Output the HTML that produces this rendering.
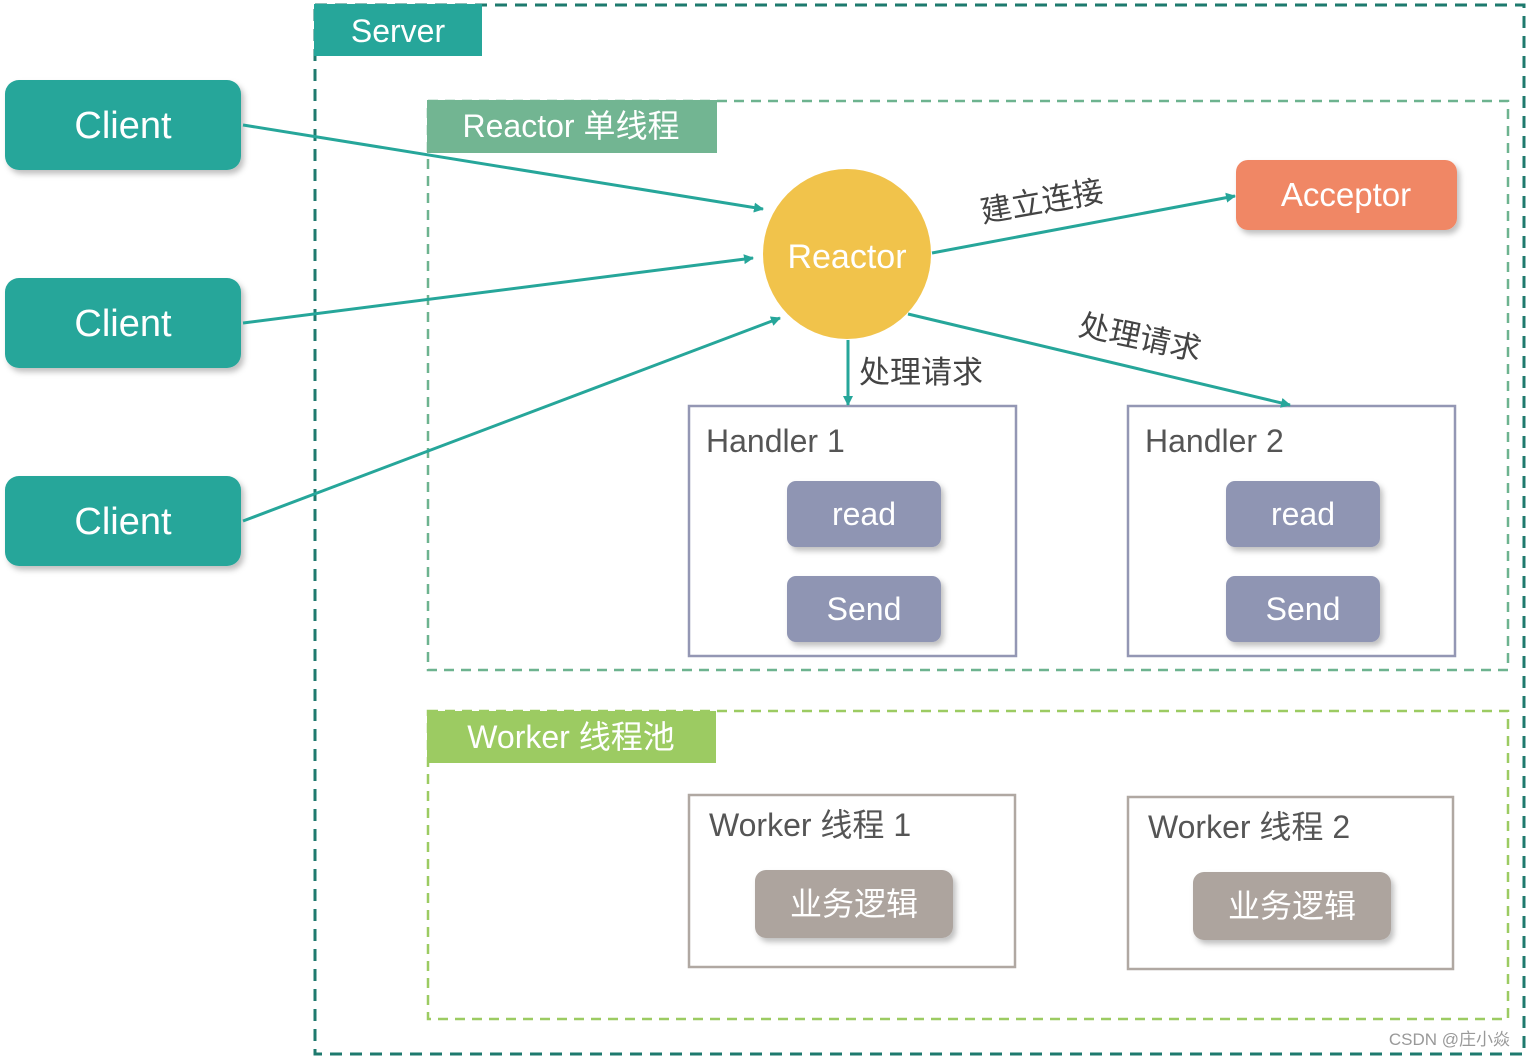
<!DOCTYPE html>
<html><head><meta charset="utf-8"><style>
html,body{margin:0;padding:0;background:#fff;}
svg{display:block;}
text{font-family:"Liberation Sans","Noto Sans CJK SC",sans-serif;}
</style></head><body>
<svg width="1526" height="1057" viewBox="0 0 1526 1057" xmlns="http://www.w3.org/2000/svg">
<defs>
<marker id="ar" markerWidth="10" markerHeight="10" refX="9" refY="5" orient="auto" markerUnits="userSpaceOnUse">
<path d="M0,0 L10,5 L0,10 z" fill="#26a69a"/></marker>
<filter id="sh" x="-10%" y="-10%" width="130%" height="140%"><feDropShadow dx="3" dy="4" stdDeviation="3" flood-color="#000" flood-opacity="0.25"/></filter>
</defs>
<!-- Server -->
<rect x="315" y="5" width="1209" height="1049" fill="none" stroke="#1e7a6e" stroke-width="3" stroke-dasharray="12,8"/>
<rect x="314" y="4" width="168" height="52" fill="#26a69a"/>
<text x="398" y="42" font-size="32" fill="#fff" text-anchor="middle">Server</text>
<!-- Reactor area -->
<rect x="428" y="101" width="1080" height="569" fill="none" stroke="#6db38f" stroke-width="2.5" stroke-dasharray="10,7"/>
<rect x="427" y="100" width="290" height="53" fill="#72b592"/>
<text x="571" y="137" font-size="32" fill="#fff" text-anchor="middle">Reactor 单线程</text>
<!-- Worker area -->
<rect x="428" y="711" width="1080" height="308" fill="none" stroke="#9ccb62" stroke-width="2.5" stroke-dasharray="10,7"/>
<rect x="427" y="711" width="289" height="52" fill="#9ccb62"/>
<text x="571" y="748" font-size="32" fill="#fff" text-anchor="middle">Worker 线程池</text>
<!-- Clients -->
<g filter="url(#sh)">
<rect x="5" y="80" width="236" height="90" rx="14" fill="#26a69a"/>
<rect x="5" y="278" width="236" height="90" rx="14" fill="#26a69a"/>
<rect x="5" y="476" width="236" height="90" rx="14" fill="#26a69a"/>
<rect x="1236" y="160" width="221" height="70" rx="12" fill="#f08765"/>
<rect x="787" y="481" width="154" height="66" rx="9" fill="#8f95b3"/>
<rect x="787" y="576" width="154" height="66" rx="9" fill="#8f95b3"/>
<rect x="1226" y="481" width="154" height="66" rx="9" fill="#8f95b3"/>
<rect x="1226" y="576" width="154" height="66" rx="9" fill="#8f95b3"/>
<rect x="755" y="870" width="198" height="68" rx="11" fill="#ada49e"/>
<rect x="1193" y="872" width="198" height="68" rx="11" fill="#ada49e"/>
</g>
<text x="123" y="138" font-size="38" fill="#fff" text-anchor="middle">Client</text>
<text x="123" y="336" font-size="38" fill="#fff" text-anchor="middle">Client</text>
<text x="123" y="534" font-size="38" fill="#fff" text-anchor="middle">Client</text>
<text x="1346" y="206" font-size="33" fill="#fff" text-anchor="middle">Acceptor</text>
<!-- Reactor -->
<ellipse cx="847" cy="254" rx="84" ry="85" fill="#f1c34b"/>
<text x="847" y="268" font-size="34" fill="#fff" text-anchor="middle">Reactor</text>
<!-- Handler boxes -->
<rect x="689" y="406" width="327" height="250" fill="none" stroke="#9497b4" stroke-width="2.5"/>
<rect x="1128" y="406" width="327" height="250" fill="none" stroke="#9497b4" stroke-width="2.5"/>
<text x="706" y="452" font-size="32" fill="#555">Handler 1</text>
<text x="1145" y="452" font-size="32" fill="#555">Handler 2</text>
<text x="864" y="525" font-size="32" fill="#fff" text-anchor="middle">read</text>
<text x="864" y="620" font-size="32" fill="#fff" text-anchor="middle">Send</text>
<text x="1303" y="525" font-size="32" fill="#fff" text-anchor="middle">read</text>
<text x="1303" y="620" font-size="32" fill="#fff" text-anchor="middle">Send</text>
<!-- Worker boxes -->
<rect x="689" y="795" width="326" height="172" fill="none" stroke="#b0a8a2" stroke-width="2.5"/>
<rect x="1128" y="797" width="325" height="172" fill="none" stroke="#b0a8a2" stroke-width="2.5"/>
<text x="709" y="836" font-size="32" fill="#555">Worker 线程 1</text>
<text x="1148" y="838" font-size="32" fill="#555">Worker 线程 2</text>
<text x="854" y="915" font-size="32" fill="#fff" text-anchor="middle">业务逻辑</text>
<text x="1292" y="917" font-size="32" fill="#fff" text-anchor="middle">业务逻辑</text>
<!-- Arrows -->
<g stroke="#26a69a" stroke-width="3" fill="none" marker-end="url(#ar)">
<line x1="243" y1="125" x2="763" y2="209"/>
<line x1="243" y1="323" x2="753" y2="258"/>
<line x1="243" y1="521" x2="780" y2="318"/>
<line x1="932" y1="253" x2="1235" y2="196"/>
<line x1="908" y1="314" x2="1290" y2="405"/>
<line x1="848" y1="340" x2="848" y2="405"/>
</g>
<text x="1042" y="212" font-size="31" fill="#444" text-anchor="middle" transform="rotate(-10 1042 202)">建立连接</text>
<text x="921" y="383" font-size="31" fill="#444" text-anchor="middle">处理请求</text>
<text x="1140" y="348" font-size="31" fill="#444" text-anchor="middle" transform="rotate(12 1140 338)">处理请求</text>
<text x="1510" y="1045" font-size="17" fill="#999" text-anchor="end">CSDN @庄小焱</text>
</svg>
</body></html>
